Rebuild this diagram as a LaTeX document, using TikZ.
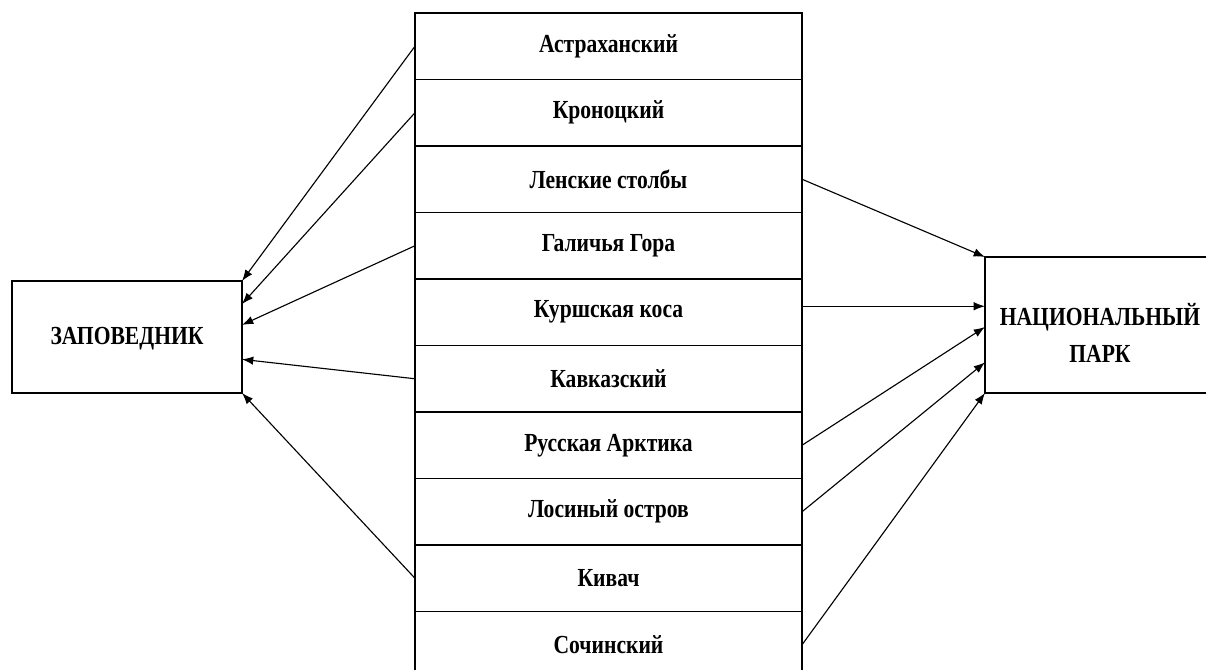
\documentclass[tikz,border=0pt]{standalone}
\usepackage{fontspec}
\usetikzlibrary{arrows.meta}
\newfontfamily\labfont[FakeStretch=0.83]{Liberation Serif}
\tikzset{
  row/.style={draw,rectangle,line width=0.8pt,inner sep=0pt,outer sep=0pt,
    minimum width=9.675cm,minimum height=1.6625cm,
    font=\labfont\bfseries\fontsize{18.5}{22}\selectfont},
  kind/.style={draw,rectangle,line width=0.8pt,inner sep=0pt,outer sep=0pt,
    minimum width=5.75cm},
  kindtext/.style={align=center,font=\labfont\bfseries\fontsize{18.5}{26}\selectfont},
  link/.style={line width=0.8pt,-{Latex[length=8pt,width=6pt]}},
}
\begin{document}
\begin{tikzpicture}[x=0.025cm,y=-0.025cm]
  \useasboundingbox (0,0) rectangle (1206,670);
  % middle column
  \node[row] (r1) at (608.5,46.25) {Астраханский};
  \node[row] (r2) at (608.5,112.75) {Кроноцкий};
  \node[row] (r3) at (608.5,179.25) {Ленские столбы};
  \node[row] (r4) at (608.5,245.75) {Галичья Гора};
  \node[row] (r5) at (608.5,312.25) {Куршская коса};
  \node[row] (r6) at (608.5,378.75) {Кавказский};
  \node[row] (r7) at (608.5,445.25) {Русская Арктика};
  \node[row] (r8) at (608.5,511.75) {Лосиный остров};
  \node[row] (r9) at (608.5,578.25) {Кивач};
  \node[row] (r10) at (608.5,644.75) {Сочинский};
  % the two kinds
  \node[kind,minimum height=2.8cm] (zap) at (127,337) {};
  \node[kindtext] (zapt) at (127,339) {ЗАПОВЕДНИК};
  \node[kind,minimum height=3.4cm] (park) at (1100,325) {};
  \node[kindtext] (parkt) at (1100,333) {НАЦИОНАЛЬНЫЙ\\ПАРК};
  % to the left box
  \draw[link] (r1.west) -- (zap.north east);
  \draw[link] (r2.west) -- (zap.16);
  \draw[link] (r4.west) -- (zap.6);
  \draw[link] (r6.west) -- (zap.-11);
  \draw[link] (r9.west) -- (zap.south east);
  % to the right box
  \coordinate (k5) at ([yshift=0.15cm]r5.east);
  \draw[link] (r3.east) -- (park.north west);
  \draw[link] (k5) -- (park.west |- k5);
  \draw[link] (r7.east) -- (park.181);
  \draw[link] (r8.east) -- (park.198);
  \draw[link] (r10.east) -- (park.south west);
\end{tikzpicture}
\end{document}
